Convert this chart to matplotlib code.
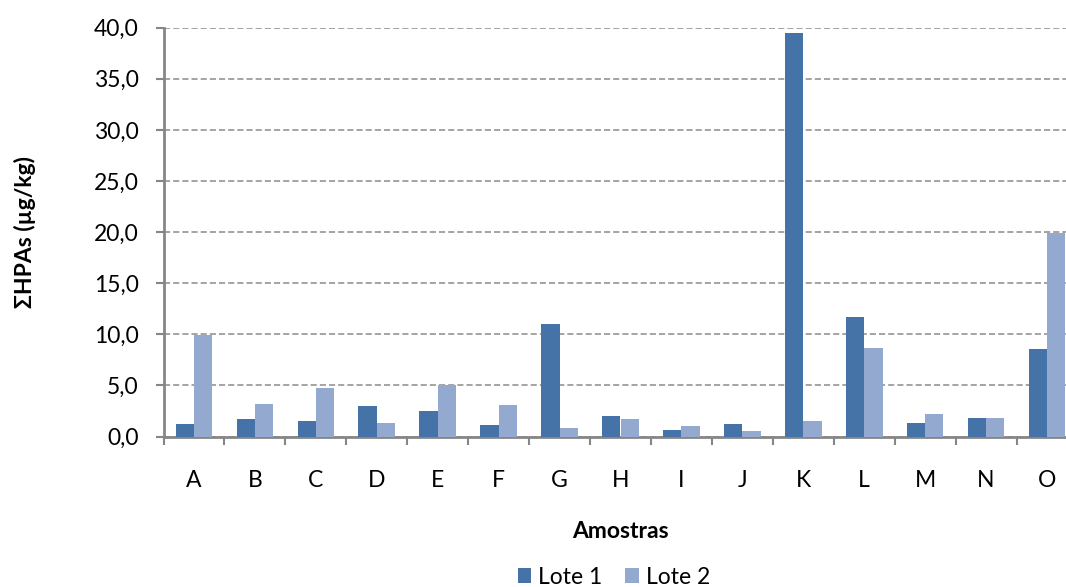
import matplotlib
matplotlib.use("Agg")
import matplotlib.pyplot as plt
import numpy as np

categories = ["A", "B", "C", "D", "E", "F", "G", "H", "I", "J", "K", "L", "M", "N", "O"]
lote1 = [1.2, 1.7, 1.5, 3.0, 2.5, 1.1, 11.0, 2.0, 0.6, 1.2, 39.5, 11.7, 1.3, 1.8, 8.6]
lote2 = [9.9, 3.2, 4.7, 1.3, 5.0, 3.1, 0.8, 1.7, 1.0, 0.5, 1.5, 8.7, 2.2, 1.8, 19.9]
yticks = [0, 5, 10, 15, 20, 25, 30, 35, 40]
series_names = ["Lote 1", "Lote 2"]

plt.rcParams['font.family'] = ['Lato', 'DejaVu Sans']

W, H = 1066, 587
fig = plt.figure(figsize=(W / 100, H / 100), dpi=100)
left, right, top, bottom = 163.5, 1077.5, 27.7, 436.5
ax = fig.add_axes([left / W, 1 - bottom / H, (right - left) / W, (bottom - top) / H])

x = np.arange(len(categories))
bw = 0.3
c1, c2 = "#4573A7", "#94A9D0"
ax.bar(x - bw / 2, lote1, bw, color=c1, label=series_names[0], zorder=3)
ax.bar(x + bw / 2, lote2, bw, color=c2, label=series_names[1], zorder=3)

ax.set_xlim(-0.5, len(categories) - 0.5)
ax.set_ylim(0, 40)
ax.set_yticks(yticks)
ax.set_yticklabels([f"{v:.1f}".replace(".", ",") for v in yticks])
ax.yaxis.grid(True, linestyle=(0, (4, 2)), color="#8c8c8c", linewidth=1.1, zorder=0)

fs = 16.5
ax.set_xticks(x)
ax.set_xticklabels(categories)
ax.set_xticks(np.arange(len(categories) + 1) - 0.5, minor=True)
ax.tick_params(axis="x", which="major", length=0, pad=24, labelsize=fs)
ax.tick_params(axis="x", which="minor", length=6, width=1.5, color="#868686")
ax.tick_params(axis="y", length=6, width=1.5, color="#868686", labelsize=fs, pad=12)

for s in ["top", "right"]:
    ax.spines[s].set_visible(False)
for s in ["left", "bottom"]:
    ax.spines[s].set_color("#868686")
    ax.spines[s].set_linewidth(2)

fig.text(25 / W, 1 - 232 / H, "ΣHPAs (µg/kg)", rotation=90, ha="center", va="center",
         fontsize=fs, fontweight="bold")
fig.text(620 / W, 1 - 531 / H, "Amostras", ha="center", va="center",
         fontsize=fs, fontweight="bold")

leg = fig.legend(loc="center", bbox_to_anchor=(614 / W, 1 - 577 / H), ncol=2, frameon=False,
                 fontsize=fs, handlelength=0.6, handleheight=0.6, handletextpad=0.3,
                 columnspacing=1.0, borderpad=0)

fig.savefig("out.png", dpi=100)
